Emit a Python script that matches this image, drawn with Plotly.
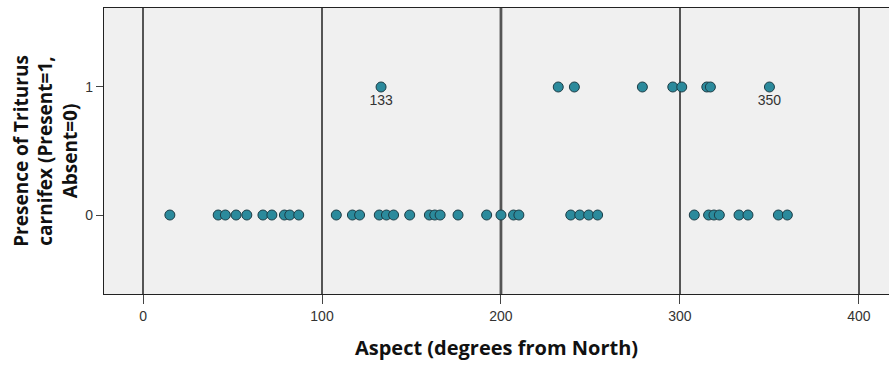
import plotly.graph_objects as go

# Aspect values (degrees from North) for absent (0) and present (1) sites
aspect_absent = [15, 42, 46, 52, 58, 67, 72, 79, 82, 87, 108, 117, 121, 132, 136, 140, 149,
                 160, 163, 166, 176, 192, 200, 207, 210, 239, 244, 249, 254,
                 308, 316, 319, 322, 333, 338, 355, 360]
aspect_present = [133, 232, 241, 279, 296, 301, 315, 317, 350]
present_labels = ["133", "", "", "", "", "", "", "", "350"]

x_ticks = [0, 100, 200, 300, 400]
y_ticks = [0, 1]
ref_line = 200

marker = dict(size=10, color="#2b8a9c", line=dict(color="#1d3d46", width=1))

fig = go.Figure()
fig.add_trace(go.Scatter(x=aspect_absent, y=[0] * len(aspect_absent), mode="markers",
                         marker=marker, showlegend=False))
fig.add_trace(go.Scatter(x=aspect_present, y=[1] * len(aspect_present), mode="markers+text",
                         text=present_labels, textposition="bottom center",
                         textfont=dict(family="Arial, Liberation Sans, sans-serif", size=14, color="#333333"),
                         marker=marker, showlegend=False))

fig.add_shape(type="line", x0=ref_line, x1=ref_line, y0=0, y1=1, xref="x", yref="paper",
              line=dict(color="black", width=2.5), layer="below")

fig.update_layout(
    width=889, height=367,
    margin=dict(l=104, r=0, t=8, b=73),
    paper_bgcolor="white", plot_bgcolor="#f0f0f0",
    xaxis=dict(range=[-21.8, 416.8], tickvals=x_ticks, ticktext=[str(v) for v in x_ticks],
               showgrid=True, gridcolor="#555555", gridwidth=1.5, zeroline=False,
               showline=True, linecolor="#222222", linewidth=1.2, mirror=True,
               ticks="outside", ticklen=9, tickcolor="#444444", tickwidth=1.2,
               tickfont=dict(family="Arial, Liberation Sans, sans-serif", size=14, color="#333333"),
               title=dict(text="<b>Aspect (degrees from North)</b>", standoff=18,
                          font=dict(family="Open Sans, Arial, sans-serif", size=20, color="#111111"))),
    yaxis=dict(range=[-0.617, 1.617], tickvals=y_ticks, ticktext=[str(v) for v in y_ticks],
               showgrid=False, zeroline=False,
               showline=True, linecolor="#222222", linewidth=1.2, mirror=False,
               ticks="outside", ticklen=7, tickcolor="#444444", tickwidth=1.2,
               tickfont=dict(family="Arial, Liberation Sans, sans-serif", size=14, color="#333333"),
               title=dict(text="<b>Presence of Triturus<br>carnifex (Present=1,<br>Absent=0)</b>", standoff=2,
                          font=dict(family="Open Sans, Arial, sans-serif", size=19, color="#111111"))),
)

fig.write_html("out.html")
